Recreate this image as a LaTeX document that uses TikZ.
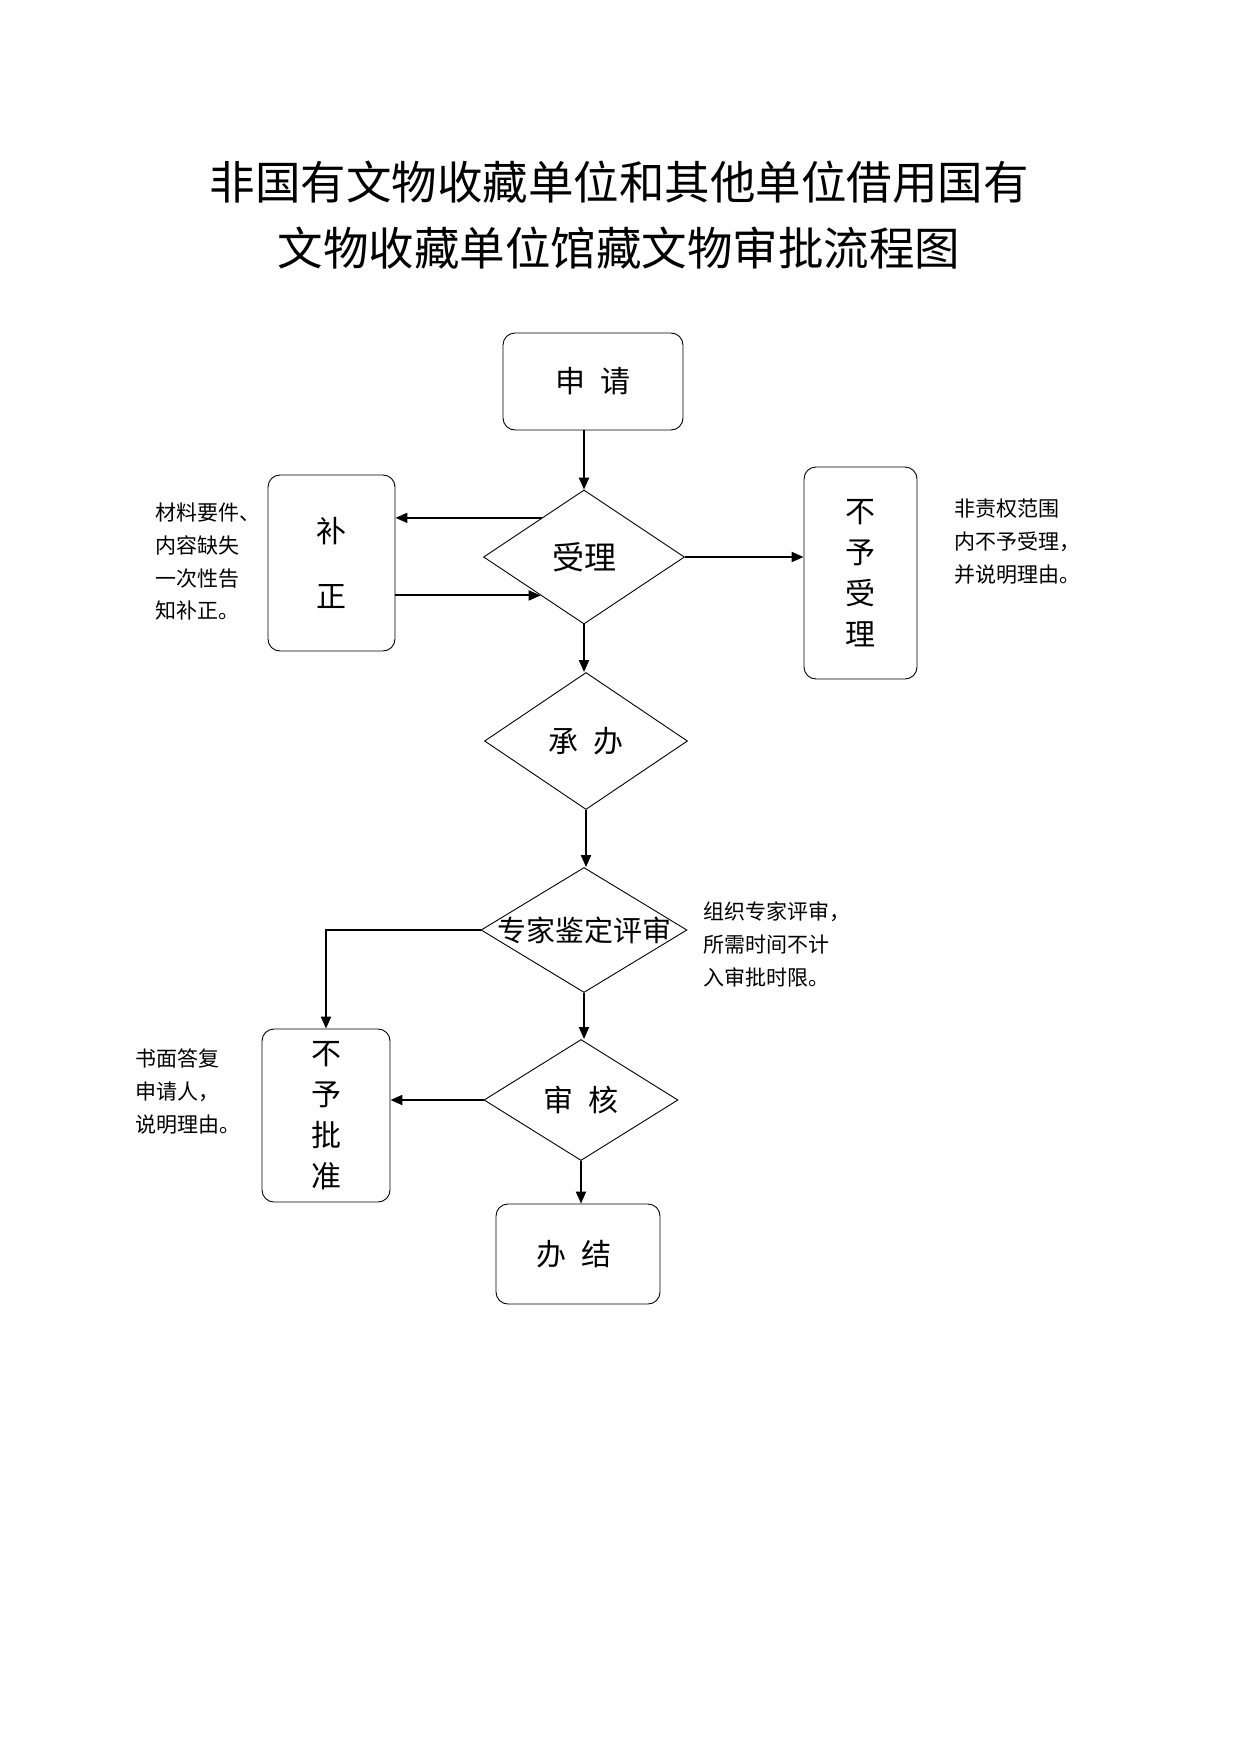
\documentclass[tikz,border=0pt]{standalone}
\usepackage{fontspec}
\setmainfont{Noto Sans CJK SC}
\usetikzlibrary{shapes.geometric,arrows.meta,calc}
\begin{document}
\begin{tikzpicture}[x=1pt,y=-1pt,
 box/.style={draw,rounded corners=12pt,line width=0.9pt,inner sep=0,align=center},
 dia/.style={draw,diamond,line width=0.9pt,inner sep=0},
 arr/.style={line width=2pt,-{Triangle[length=12pt,width=10pt]}},
 lbl/.style={font=\fontsize{30}{30}\selectfont,inner sep=0},
 note/.style={font=\fontsize{21}{32.7}\selectfont,align=left,anchor=north west,inner sep=0}]
\useasboundingbox (0,0) rectangle (1240,1753);
% title
\node[font=\fontsize{45.5}{66}\selectfont,align=center,inner sep=0] (title) at (619,215) {非国有文物收藏单位和其他单位借用国有\\文物收藏单位馆藏文物审批流程图};
% boxes
\node[box,minimum width=180pt,minimum height=97pt,font=\fontsize{30}{30}\selectfont] (sq) at (593,381.5) {申\hspace{16pt}请};
\node[box,minimum width=127pt,minimum height=176pt,font=\fontsize{30}{65}\selectfont] (bz) at (331.5,563) {补\\正};
\node[box,minimum width=113pt,minimum height=212pt,font=\fontsize{30}{41}\selectfont] (bs) at (860.5,573) {不\\予\\受\\理};
\node[box,minimum width=128pt,minimum height=173pt,font=\fontsize{30}{41}\selectfont] (bp) at (326,1115.5) {不\\予\\批\\准};
\node[box,minimum width=164pt,minimum height=100pt,font=\fontsize{30}{30}\selectfont] (bj) at (578,1254) {\hspace*{-8pt}办\hspace{16pt}结};
% diamonds
\node[dia,minimum width=201pt,minimum height=134pt] (sl) at (584,557) {};
\node[lbl,font=\fontsize{32}{32}\selectfont] (slt) at (sl.center) {受理};
\node[dia,minimum width=203pt,minimum height=137pt] (cb) at (586,741) {};
\node[lbl] (cbt) at (cb.center) {承\hspace{16pt}办};
\node[dia,minimum width=206pt,minimum height=125pt] (zj) at (584,930) {};
\node[lbl,font=\fontsize{29}{29}\selectfont] (zjt) at (zj.center) {专家鉴定评审};
\node[dia,minimum width=194pt,minimum height=121pt] (sh) at (581,1100) {};
\node[lbl] (sht) at (sh.center) {审\hspace{16pt}核};
% notes
\node[note] (n1) at (155,503) {材料要件、\\内容缺失\\一次性告\\知补正。};
\node[note] (n2) at (954,499) {非责权范围\\内不予受理，\\并说明理由。};
\node[note] (n3) at (703,902) {组织专家评审，\\所需时间不计\\入审批时限。};
\node[note] (n4) at (135,1049) {书面答复\\申请人，\\说明理由。};
% connectors
\coordinate (a1) at ($(sl.north)!0.42!(sl.west)$);
\coordinate (a2) at ($(sl.west)!0.57!(sl.south)$);
\draw[arr] (sq.south -| sl.north) -- (sl.north);
\draw[arr] (a1) -- (a1 -| bz.east);
\draw[arr] (a2 -| bz.east) -- (a2);
\draw[arr] (sl.east) -- (sl.east -| bs.west);
\draw[arr] (sl.south) -- (sl.south |- cb.north);
\draw[arr] (cb.south) -- (cb.south |- zj.north);
\draw[arr] (zj.west) -| (bp.north);
\draw[arr] (zj.south) -- (zj.south |- sh.north);
\draw[arr] (sh.west) -- (sh.west -| bp.east);
\draw[arr] (sh.south) -- (sh.south |- bj.north);
\end{tikzpicture}
\end{document}
